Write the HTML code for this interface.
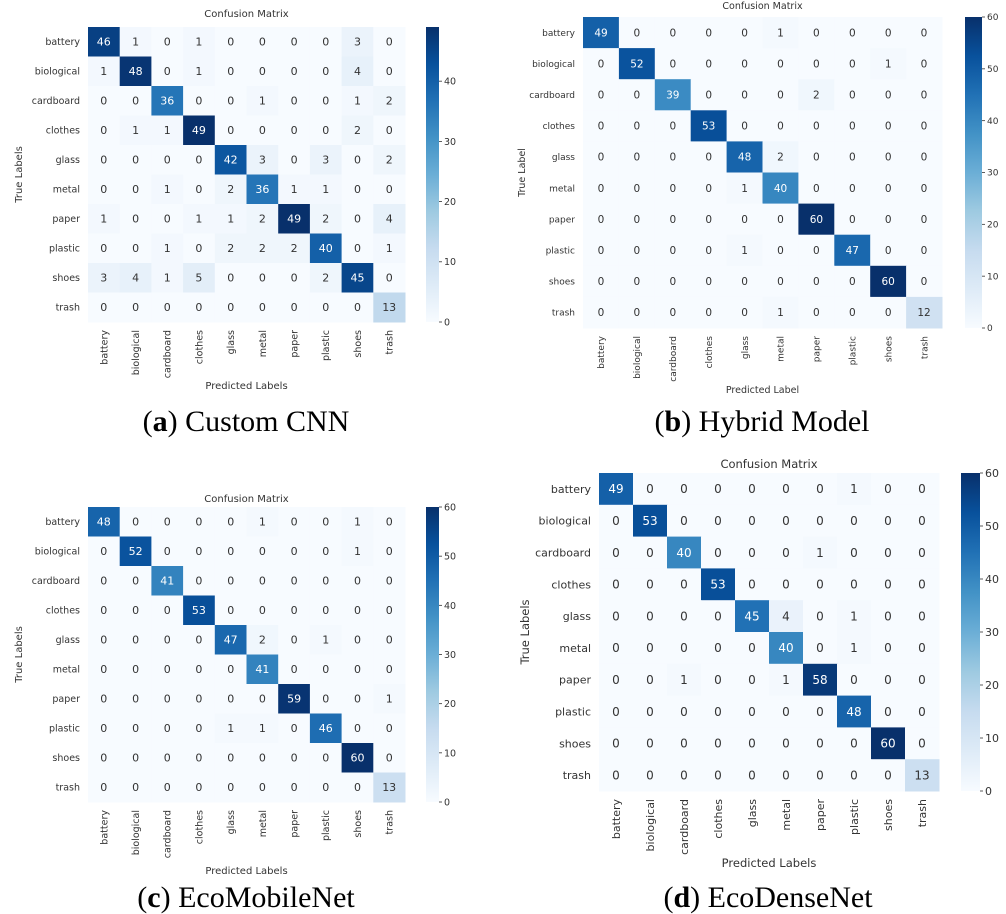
<!DOCTYPE html>
<html><head><meta charset="utf-8"><style>
html,body{margin:0;padding:0;background:#fff;}
svg{display:block;}
</style></head><body>
<svg id="s" width="1006" height="914" xmlns="http://www.w3.org/2000/svg" font-family="'DejaVu Sans','Liberation Sans',sans-serif"></svg>
<script>
const labs=["battery","biological","cardboard","clothes","glass","metal","paper","plastic","shoes","trash"];
function mk(diag,off){const m=[];for(let i=0;i<10;i++){m.push(new Array(10).fill(0));m[i][i]=diag[i];}off.forEach(o=>m[o[0]][o[1]]=o[2]);return m;}
const A=[[46,1,0,1,0,0,0,0,3,0],[1,48,0,1,0,0,0,0,4,0],[0,0,36,0,0,1,0,0,1,2],[0,1,1,49,0,0,0,0,2,0],[0,0,0,0,42,3,0,3,0,2],[0,0,1,0,2,36,1,1,0,0],[1,0,0,1,1,2,49,2,0,4],[0,0,1,0,2,2,2,40,0,1],[3,4,1,5,0,0,0,2,45,0],[0,0,0,0,0,0,0,0,0,13]];
const B=mk([49,52,39,53,48,40,60,47,60,12],[[0,5,1],[1,8,1],[2,6,2],[4,5,2],[5,4,1],[7,4,1],[9,5,1]]);
const C=mk([48,52,41,53,47,41,59,46,60,13],[[0,5,1],[0,8,1],[1,8,1],[4,5,2],[4,7,1],[6,9,1],[7,4,1],[7,5,1]]);
const D=mk([49,53,40,53,45,40,58,48,60,13],[[0,7,1],[2,6,1],[4,5,4],[4,7,1],[5,7,1],[6,2,1],[6,5,1]]);
const stops=["#f7fbff","#deebf7","#c6dbef","#9ecae1","#6baed6","#4292c6","#2171b5","#08519c","#08306b"];
function h2r(h){return [1,3,5].map(i=>parseInt(h.substr(i,2),16));}
function cmap(t){t=Math.max(0,Math.min(1,t))*8;const i=Math.min(7,Math.floor(t)),f=t-i;const a=h2r(stops[i]),b=h2r(stops[i+1]);return "rgb("+a.map((v,k)=>Math.round(v+(b[k]-v)*f)).join(",")+")";}
const P=[
{m:A,gx:88,gy:27,gw:317,gh:295,vmax:49,ticks:[0,10,20,30,40],cbx:426,cbw:13,ty:17,fs:11,ls:9.5,xl:"Predicted Labels",xly:389,yl:"True Labels",ylx:18,cap:["a"," Custom CNN"],capx:246,capy:431},
{m:B,gx:583,gy:17,gw:359,gh:311,vmax:60,ticks:[0,10,20,30,40,50,60],cbx:965,cbw:17,ty:9,fs:10.5,ls:9,xl:"Predicted Label",xly:393,yl:"True Label",ylx:521,cap:["b"," Hybrid Model"],capx:762,capy:431},
{m:C,gx:88,gy:507,gw:317,gh:295,vmax:60,ticks:[0,10,20,30,40,50,60],cbx:426,cbw:13,ty:502,fs:11,ls:9.5,xl:"Predicted Labels",xly:874,yl:"True Labels",ylx:18,cap:["c"," EcoMobileNet"],capx:246,capy:907},
{m:D,gx:599,gy:473,gw:340,gh:318,vmax:60,ticks:[0,10,20,30,40,50,60],cbx:961,cbw:19,ty:468,fs:12,ls:11,xl:"Predicted Labels",xly:867,yl:"True Labels",ylx:525,cap:["d"," EcoDenseNet"],capx:768,capy:907}
];
let s="";
P.forEach((p,pi)=>{
const cw=p.gw/10,ch=p.gh/10;
s+=`<text x="${p.gx+p.gw/2}" y="${p.ty}" font-size="${p.ls+0.5}" fill="#333" text-anchor="middle">Confusion Matrix</text>`;
for(let i=0;i<10;i++){for(let j=0;j<10;j++){const v=p.m[i][j],x=p.gx+j*cw,y=p.gy+i*ch;
s+=`<rect x="${x.toFixed(2)}" y="${y.toFixed(2)}" width="${(cw+0.5).toFixed(2)}" height="${(ch+0.5).toFixed(2)}" fill="${cmap(v/p.vmax)}"/>`;
s+=`<text x="${(x+cw/2).toFixed(1)}" y="${(y+ch/2+p.fs*0.36).toFixed(1)}" font-size="${p.fs}" text-anchor="middle" fill="${v/p.vmax>0.5?'#fff':'#333'}">${v}</text>`;}
s+=`<text x="${p.gx-8}" y="${(p.gy+i*ch+ch/2+p.ls*0.36).toFixed(1)}" font-size="${p.ls}" fill="#333" text-anchor="end">${labs[i]}</text>`;
const cx=p.gx+i*cw+cw/2+p.ls*0.36,ty=p.gy+p.gh+8;
s+=`<text transform="translate(${cx.toFixed(1)},${ty}) rotate(-90)" font-size="${p.ls}" fill="#333" text-anchor="end">${labs[i]}</text>`;}
s+=`<text x="${p.gx+p.gw/2}" y="${p.xly}" font-size="${p.ls+0.5}" fill="#333" text-anchor="middle">${p.xl}</text>`;
s+=`<text transform="translate(${p.ylx+4},${p.gy+p.gh/2}) rotate(-90)" font-size="${p.ls+0.5}" fill="#333" text-anchor="middle">${p.yl}</text>`;
const gid="g"+pi;
s+=`<defs><linearGradient id="${gid}" x1="0" y1="1" x2="0" y2="0">${stops.map((c,k)=>`<stop offset="${k/8}" stop-color="${c}"/>`).join("")}</linearGradient></defs>`;
s+=`<rect x="${p.cbx}" y="${p.gy}" width="${p.cbw}" height="${p.gh}" fill="url(#${gid})"/>`;
p.ticks.forEach(t=>{const y=p.gy+p.gh-t/p.vmax*p.gh;
s+=`<line x1="${p.cbx+p.cbw}" x2="${p.cbx+p.cbw+3}" y1="${y}" y2="${y}" stroke="#333" stroke-width="0.8"/>`;
s+=`<text x="${p.cbx+p.cbw+5}" y="${(y+p.ls*0.36).toFixed(1)}" font-size="${p.ls}" fill="#333">${t}</text>`;});
s+=`<text x="${p.capx}" y="${p.capy}" font-size="30" font-family="'Liberation Serif',serif" fill="#000" text-anchor="middle">(<tspan font-weight="bold">${p.cap[0]}</tspan>)${p.cap[1]}</text>`;
});
document.getElementById("s").innerHTML=s;
</script>
</body></html>
